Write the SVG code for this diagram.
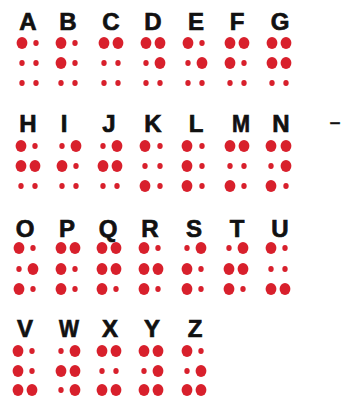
<svg xmlns="http://www.w3.org/2000/svg" xmlns:xlink="http://www.w3.org/1999/xlink" width="348" height="401" viewBox="0 0 348 401">
<style>
.l{font-family:"Liberation Sans",Arial,sans-serif;font-weight:bold;font-size:24px;fill:#111;stroke:#111;stroke-width:0.7px;text-anchor:middle}
.d{font-family:"Liberation Sans",Arial,sans-serif;font-weight:bold;font-size:19px;fill:#111;stroke:#111;stroke-width:0.4px;text-anchor:middle}
</style>
<defs>
<ellipse id="b" rx="5.4" ry="5.9" fill="#d8202c"/>
<ellipse id="s" rx="2.7" ry="2.9" fill="#d8202c"/>
</defs>
<rect width="348" height="401" fill="#fff"/>
<g id="A"><text class="l" x="28" y="30">A</text><use href="#b" x="22" y="43"/><use href="#s" x="22" y="63"/><use href="#s" x="22" y="83"/><use href="#s" x="36" y="43"/><use href="#s" x="36" y="63"/><use href="#s" x="36" y="83"/></g>
<g id="B"><text class="l" x="68" y="30">B</text><use href="#b" x="61" y="43"/><use href="#b" x="61" y="63"/><use href="#s" x="61" y="83"/><use href="#s" x="75" y="43"/><use href="#s" x="75" y="63"/><use href="#s" x="75" y="83"/></g>
<g id="C"><text class="l" x="111" y="30">C</text><use href="#b" x="104" y="43"/><use href="#s" x="104" y="63"/><use href="#s" x="104" y="83"/><use href="#b" x="118" y="43"/><use href="#s" x="118" y="63"/><use href="#s" x="118" y="83"/></g>
<g id="D"><text class="l" x="153" y="30">D</text><use href="#b" x="146" y="43"/><use href="#s" x="146" y="63"/><use href="#s" x="146" y="83"/><use href="#b" x="160" y="43"/><use href="#b" x="160" y="63"/><use href="#s" x="160" y="83"/></g>
<g id="E"><text class="l" x="196" y="30">E</text><use href="#b" x="188" y="43"/><use href="#s" x="188" y="63"/><use href="#s" x="188" y="83"/><use href="#s" x="202" y="43"/><use href="#b" x="202" y="63"/><use href="#s" x="202" y="83"/></g>
<g id="F"><text class="l" x="237" y="30">F</text><use href="#b" x="230" y="43"/><use href="#b" x="230" y="63"/><use href="#s" x="230" y="83"/><use href="#b" x="244" y="43"/><use href="#s" x="244" y="63"/><use href="#s" x="244" y="83"/></g>
<g id="G"><text class="l" x="280" y="30">G</text><use href="#b" x="272" y="43"/><use href="#b" x="272" y="63"/><use href="#s" x="272" y="83"/><use href="#b" x="286" y="43"/><use href="#b" x="286" y="63"/><use href="#s" x="286" y="83"/></g>

<g id="H"><text class="l" x="28" y="132">H</text><use href="#b" x="21" y="146"/><use href="#b" x="21" y="166"/><use href="#s" x="21" y="186"/><use href="#s" x="35" y="146"/><use href="#b" x="35" y="166"/><use href="#s" x="35" y="186"/></g>
<g id="I"><text class="l" x="64" y="132">I</text><use href="#s" x="62" y="146"/><use href="#b" x="62" y="166"/><use href="#s" x="62" y="186"/><use href="#b" x="76" y="146"/><use href="#s" x="76" y="166"/><use href="#s" x="76" y="186"/></g>
<g id="J"><text class="l" x="109" y="132">J</text><use href="#s" x="103" y="146"/><use href="#b" x="103" y="166"/><use href="#s" x="103" y="186"/><use href="#b" x="117" y="146"/><use href="#b" x="117" y="166"/><use href="#s" x="117" y="186"/></g>
<g id="K"><text class="l" x="153" y="132">K</text><use href="#b" x="145" y="146"/><use href="#s" x="145" y="166"/><use href="#b" x="145" y="186"/><use href="#s" x="160" y="146"/><use href="#s" x="160" y="166"/><use href="#s" x="160" y="186"/></g>
<g id="L"><text class="l" x="196" y="132">L</text><use href="#b" x="187" y="146"/><use href="#b" x="187" y="166"/><use href="#b" x="187" y="186"/><use href="#s" x="202" y="146"/><use href="#s" x="202" y="166"/><use href="#s" x="202" y="186"/></g>
<g id="M"><text class="l" x="241" y="132" textLength="18" lengthAdjust="spacingAndGlyphs">M</text><use href="#b" x="230" y="146"/><use href="#s" x="230" y="166"/><use href="#b" x="230" y="186"/><use href="#b" x="244" y="146"/><use href="#s" x="244" y="166"/><use href="#s" x="244" y="186"/></g>
<g id="N"><text class="l" x="281" y="132">N</text><use href="#b" x="271" y="146"/><use href="#s" x="271" y="166"/><use href="#b" x="271" y="186"/><use href="#b" x="286" y="146"/><use href="#b" x="286" y="166"/><use href="#s" x="286" y="186"/></g>
<text id="dash" class="d" x="335" y="128">–</text>

<g id="O"><text class="l" x="25" y="237">O</text><use href="#b" x="19" y="248"/><use href="#s" x="19" y="269"/><use href="#b" x="19" y="289"/><use href="#s" x="33" y="248"/><use href="#b" x="33" y="269"/><use href="#s" x="33" y="289"/></g>
<g id="P"><text class="l" x="67" y="237">P</text><use href="#b" x="61" y="248"/><use href="#b" x="61" y="269"/><use href="#b" x="61" y="289"/><use href="#b" x="75" y="248"/><use href="#s" x="75" y="269"/><use href="#s" x="75" y="289"/></g>
<g id="Q"><text class="l" x="108" y="237">Q</text><use href="#b" x="102" y="248"/><use href="#b" x="102" y="269"/><use href="#b" x="102" y="289"/><use href="#b" x="116" y="248"/><use href="#b" x="116" y="269"/><use href="#s" x="116" y="289"/></g>
<g id="R"><text class="l" x="150" y="237">R</text><use href="#b" x="144" y="248"/><use href="#b" x="144" y="269"/><use href="#b" x="144" y="289"/><use href="#s" x="158" y="248"/><use href="#b" x="158" y="269"/><use href="#s" x="158" y="289"/></g>
<g id="S"><text class="l" x="194" y="237">S</text><use href="#s" x="187" y="248"/><use href="#b" x="187" y="269"/><use href="#b" x="187" y="289"/><use href="#b" x="201" y="248"/><use href="#s" x="201" y="269"/><use href="#s" x="201" y="289"/></g>
<g id="T"><text class="l" x="237" y="237">T</text><use href="#s" x="229" y="248"/><use href="#b" x="229" y="269"/><use href="#b" x="229" y="289"/><use href="#b" x="243" y="248"/><use href="#b" x="243" y="269"/><use href="#s" x="243" y="289"/></g>
<g id="U"><text class="l" x="280" y="237">U</text><use href="#b" x="271" y="248"/><use href="#s" x="271" y="269"/><use href="#b" x="271" y="289"/><use href="#s" x="285" y="248"/><use href="#s" x="285" y="269"/><use href="#b" x="285" y="289"/></g>

<g id="V"><text class="l" x="25" y="337">V</text><use href="#b" x="18" y="351"/><use href="#b" x="18" y="371"/><use href="#b" x="18" y="390"/><use href="#s" x="32" y="351"/><use href="#s" x="32" y="371"/><use href="#b" x="32" y="390"/></g>
<g id="W"><text class="l" x="69" y="337" textLength="20" lengthAdjust="spacingAndGlyphs">W</text><use href="#s" x="61" y="351"/><use href="#b" x="61" y="371"/><use href="#s" x="61" y="390"/><use href="#b" x="75" y="351"/><use href="#b" x="75" y="371"/><use href="#b" x="75" y="390"/></g>
<g id="X"><text class="l" x="110" y="337">X</text><use href="#b" x="102" y="351"/><use href="#s" x="102" y="371"/><use href="#b" x="102" y="390"/><use href="#b" x="116" y="351"/><use href="#s" x="116" y="371"/><use href="#b" x="116" y="390"/></g>
<g id="Y"><text class="l" x="152" y="337">Y</text><use href="#b" x="144" y="351"/><use href="#s" x="144" y="371"/><use href="#b" x="144" y="390"/><use href="#b" x="158" y="351"/><use href="#b" x="158" y="371"/><use href="#b" x="158" y="390"/></g>
<g id="Z"><text class="l" x="195" y="337">Z</text><use href="#b" x="187" y="351"/><use href="#s" x="187" y="371"/><use href="#b" x="187" y="390"/><use href="#s" x="201" y="351"/><use href="#b" x="201" y="371"/><use href="#b" x="201" y="390"/></g>
</svg>
